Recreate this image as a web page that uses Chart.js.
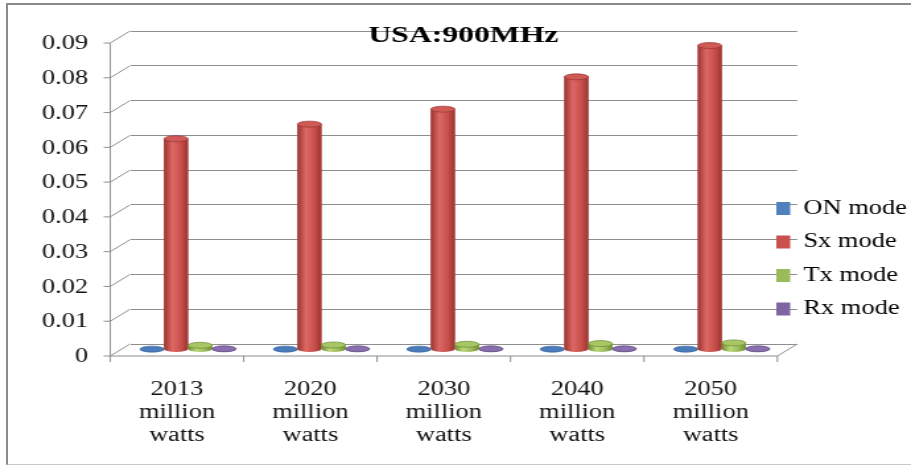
<!DOCTYPE html>
<html>
<head>
<meta charset="utf-8">
<title>USA:900MHz</title>
<script src="https://cdn.jsdelivr.net/npm/chart.js@4.4.1/dist/chart.umd.min.js"></script>
<style>
  html, body { margin: 0; padding: 0; background: #fff; }
  #wrap { position: relative; width: 911px; height: 467px; overflow: hidden; }
  #frame { position: absolute; left: 6px; top: 3px; width: 930px; height: 462px; box-sizing: border-box;
           border: 2px solid #8a8a8a; border-bottom: 1px solid #c8c8c8; }
  #chart { position: absolute; left: 0; top: 0; }
</style>
</head>
<body>
<div id="wrap">
  <div id="frame"></div>
  <!-- drawn narrow and stretched wide, the way the old Excel picture was -->
  <canvas id="chart" width="690" height="467" style="width:911px;height:467px"></canvas>
</div>
<script>
var chartTitle = 'USA:900MHz';
var categories = [
  ['2013', 'million', 'watts'],
  ['2020', 'million', 'watts'],
  ['2030', 'million', 'watts'],
  ['2040', 'million', 'watts'],
  ['2050', 'million', 'watts']
];
var seriesNames = ['ON mode', 'Sx mode', 'Tx mode', 'Rx mode'];
var onMode = [0.0001, 0.0001, 0.0001, 0.0001, 0.0001];
var sxMode = [0.0606, 0.0648, 0.0691, 0.0784, 0.0874];
var txMode = [0.0012, 0.0013, 0.0015, 0.0017, 0.0019];
var rxMode = [0.0002, 0.0002, 0.0002, 0.0002, 0.0002];
var yTickLabels = ['0', '0.01', '0.02', '0.03', '0.04', '0.05', '0.06', '0.07', '0.08', '0.09'];

var serif = "'Liberation Serif', 'Times New Roman', serif";
var gridColor = '#8e8e8e';

// fake 3d: front axis sits left/down of the back wall, columns halfway in
var depthX = -15, depthY = 12;
var barShiftX = -6.6, barShiftY = 5.5;

var shades = [
  { base: '#4f81bd', light: '#7ea6dc', dark: '#3b659a', top: '#4a7bbb' },
  { base: '#c9504c', light: '#dc6864', dark: '#9a3431', top: '#cf5a56' },
  { base: '#9bbb59', light: '#bcd97d', dark: '#6f8c34', top: '#a6c763' },
  { base: '#8064a2', light: '#9e86bf', dark: '#5d4680', top: '#8a6fae' }
];

function drawCylinder(ctx, x, top, base, w, c) {
  var rx = w / 2, ry = 3;
  var g = ctx.createLinearGradient(x - rx, 0, x + rx, 0);
  g.addColorStop(0, c.dark);
  g.addColorStop(0.35, c.light);
  g.addColorStop(0.7, c.base);
  g.addColorStop(1, c.dark);
  ctx.fillStyle = g;
  ctx.beginPath();
  ctx.moveTo(x - rx, top);
  ctx.lineTo(x - rx, base);
  ctx.ellipse(x, base, rx, ry, 0, Math.PI, 0, true);
  ctx.lineTo(x + rx, top);
  ctx.closePath();
  ctx.fill();

  ctx.beginPath();
  ctx.ellipse(x, top, rx, ry, 0, 0, Math.PI * 2);
  ctx.fillStyle = c.top;
  ctx.fill();
  ctx.lineWidth = 0.7;
  ctx.strokeStyle = c.dark;
  ctx.stroke();
}

var pseudo3d = {
  id: 'pseudo3d',
  afterLayout: function (chart) {
    // park the legend just right of the plot, a bit below centre
    var lg = chart.legend;
    var pad = chart.options.plugins.legend.labels.padding;
    lg.left = 588 - pad;
    lg.right = lg.left + lg.width;
    lg.top = 198.5 - pad;
    lg.bottom = chart.height;
    lg.height = lg.bottom - lg.top;
  },
  beforeDatasetsDraw: function (chart) {
    var ctx = chart.ctx, a = chart.chartArea;
    var ys = chart.scales.y, xs = chart.scales.x;
    var fx = a.left + depthX;
    ctx.save();
    ctx.strokeStyle = gridColor;
    ctx.lineWidth = 1;
    ctx.beginPath();
    ctx.moveTo(fx, ys.getPixelForValue(ys.max) + depthY);
    ctx.lineTo(fx, a.bottom + depthY);
    ys.ticks.forEach(function (t) {
      var y = ys.getPixelForValue(t.value);
      ctx.moveTo(a.left, y);
      ctx.lineTo(fx, y + depthY);
      ctx.lineTo(fx - 5, y + depthY);
    });
    ctx.moveTo(fx, a.bottom + depthY);
    ctx.lineTo(a.right + depthX, a.bottom + depthY);
    ctx.lineTo(a.right, a.bottom);
    for (var i = 0; i <= categories.length; i++) {
      var bx = xs.getPixelForDecimal(i / categories.length) + depthX;
      ctx.moveTo(bx, a.bottom + depthY);
      ctx.lineTo(bx, a.bottom + depthY + 6);
    }
    ctx.stroke();
    ctx.restore();

    ctx.save();
    ctx.translate(barShiftX, barShiftY);
  },
  afterDatasetsDraw: function (chart) {
    var ctx = chart.ctx;
    chart.data.datasets.forEach(function (ds, i) {
      var meta = chart.getDatasetMeta(i);
      meta.data.forEach(function (bar) {
        var p = bar.getProps(['x', 'y', 'base', 'width'], true);
        drawCylinder(ctx, p.x, p.y, p.base, p.width, shades[i]);
      });
    });
    ctx.restore();
  },
  afterDraw: function (chart) {
    var ctx = chart.ctx;
    ctx.save();
    ctx.font = 'bold 24px ' + serif;
    ctx.fillStyle = '#000';
    ctx.textAlign = 'center';
    ctx.textBaseline = 'alphabetic';
    ctx.fillText(chartTitle, 351, 42);
    ctx.restore();
  }
};

var seriesData = [onMode, sxMode, txMode, rxMode];

var ctx = document.getElementById('chart').getContext('2d');
var myChart = new Chart(ctx, {
  type: 'bar',
  data: {
    labels: categories,
    datasets: seriesData.map(function (vals, i) {
      return {
        label: seriesNames[i],
        data: vals,
        backgroundColor: shades[i].base,
        borderWidth: 0,
        categoryPercentage: 0.72,
        barPercentage: 1.0,
        clip: false
      };
    })
  },
  options: {
    responsive: false,
    animation: false,
    devicePixelRatio: 1,
    events: [],
    layout: { padding: { top: 31, right: 86.2, left: 0, bottom: 0 } },
    plugins: {
      title: { display: false },
      tooltip: { enabled: false },
      legend: {
        position: 'chartArea',
        align: 'start',
        labels: {
          boxWidth: 10.5,
          boxHeight: 13,
          padding: 13.5,
          color: '#000',
          font: { family: serif, size: 20 }
        }
      }
    },
    scales: {
      x: {
        grid: { display: false },
        border: { display: false },
        afterFit: function (scale) { scale.height = 123; },
        ticks: {
          color: '#111',
          padding: 26.5,
          labelOffset: depthX,
          maxRotation: 0,
          autoSkip: false,
          font: { family: serif, size: 20, lineHeight: 1.15 }
        }
      },
      y: {
        min: 0,
        max: 0.09,
        border: { display: false },
        // the visible ticks live on the front axis, these just push the labels over
        grid: { color: gridColor, lineWidth: 1, tickLength: 30, tickColor: 'rgba(0,0,0,0)' },
        afterFit: function (scale) { scale.width = 98.5; },
        ticks: {
          stepSize: 0.01,
          padding: 1.8,
          labelOffset: 13,
          color: '#111',
          font: { family: serif, size: 20 },
          callback: function (value, index) { return yTickLabels[index]; }
        }
      }
    }
  },
  plugins: [pseudo3d]
});
</script>
</body>
</html>
